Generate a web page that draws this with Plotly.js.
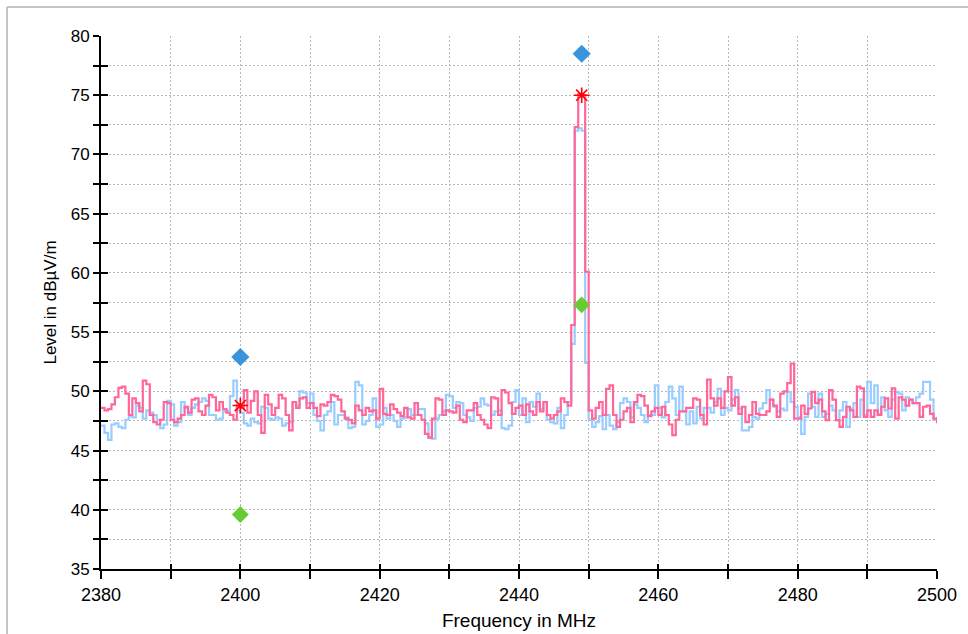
<!DOCTYPE html>
<html>
<head>
<meta charset="utf-8">
<script src="https://cdn.plot.ly/plotly-3.0.1.min.js"></script>
<style>html,body{margin:0;padding:0;background:#fff;}#chart{width:968px;height:634px;}</style>
</head>
<body>
<div id="chart"></div>
<script>
// Sweep: 2380 MHz to 2500 MHz, 0.5 MHz per sample
const sweepStart = 2380;
const sweepStep = 0.5;

// Level trace 1 (light blue), dBµV/m
const levelBlue = [
47.1,46.5,45.9,47.2,47.3,47.0,46.9,47.6,47.9,47.8,
48.8,48.6,47.7,48.4,48.2,48.0,47.6,46.9,47.2,49.2,
48.9,47.1,47.4,49.1,48.6,48.0,48.6,48.9,49.1,49.4,
49.2,48.0,48.0,47.6,47.7,48.3,48.4,49.6,50.9,48.4,
48.2,47.3,47.1,47.7,47.4,47.3,48.7,48.6,47.7,47.6,
47.8,47.7,47.1,47.3,47.4,49.1,48.8,50.0,49.9,49.0,
49.8,
48.0,47.5,46.7,48.0,48.3,49.1,47.2,48.0,48.0,
47.8,46.9,47.0,50.8,50.5,47.2,47.5,48.0,49.4,47.0,
47.2,48.6,47.7,48.0,47.5,47.0,47.7,47.8,48.5,48.0,
48.0,48.5,48.5,47.3,46.1,46.0,47.7,48.0,48.3,49.7,
49.6,48.6,49.1,49.0,48.0,47.8,47.5,48.6,48.7,49.4,
48.9,48.8,48.0,48.3,48.4,46.9,46.8,47.1,49.1,50.1,
48.0,
49.4,47.4,49.1,48.7,49.8,48.5,49.1,47.6,47.4,
47.3,48.6,46.9,48.0,49.1,54.0,72.0,72.2,72.0,52.4,
47.6,47.0,47.4,47.9,46.8,48.0,47.1,46.8,47.4,49.0,
49.4,49.1,47.8,48.9,48.6,48.0,47.4,48.0,48.0,50.5,
48.6,47.8,49.1,50.4,49.4,48.0,50.4,48.3,47.2,48.3,
47.3,48.7,47.7,48.6,48.6,48.2,49.1,50.2,48.0,48.6,
48.4,
49.3,50.1,48.55,46.7,46.7,47.0,47.85,47.7,48.55,
49.0,50.1,49.3,48.7,48.3,48.55,48.4,49.96,49.1,48.7,
47.85,46.4,47.85,49.8,48.7,47.85,49.8,47.85,48.1,48.8,
48.4,47.57,48.4,49.1,47.0,48.55,49.0,47.85,49.3,48.0,
50.8,49.0,50.5,48.1,49.5,48.4,47.85,49.3,49.96,49.8,
48.4,49.5,49.3,49.0,49.5,49.8,50.8,50.8,49.3,47.6,
47.85
];

// Level trace 2 (pink), dBµV/m
const levelPink = [
48.6,48.4,48.5,48.9,49.5,50.3,50.4,49.8,48.0,49.4,
49.0,48.3,50.9,50.6,48.0,47.4,47.2,47.6,49.1,49.0,
47.6,47.4,47.7,48.0,48.7,48.2,49.3,49.4,48.3,48.0,
48.8,49.7,49.5,48.4,49.1,48.5,48.2,48.0,47.6,48.8,
48.6,50.1,48.2,49.2,50.0,48.0,46.5,49.7,48.9,48.0,
48.6,49.7,49.4,48.0,46.7,49.1,48.6,49.4,49.5,48.6,
49.0,
48.6,47.9,48.9,48.8,49.1,49.7,49.6,49.3,48.3,
47.7,47.6,47.3,48.8,48.4,48.0,48.6,48.3,48.4,47.7,
50.2,48.1,48.0,48.9,48.5,48.2,47.9,48.6,47.8,47.7,
49.0,48.0,47.6,46.4,46.1,47.7,49.4,49.3,48.0,48.4,
48.3,48.2,48.8,47.6,47.4,48.4,48.4,49.0,48.0,47.6,
47.2,46.9,49.5,49.4,48.0,50.1,49.9,49.0,48.1,48.6,
48.8,
48.0,48.9,48.3,48.0,49.1,48.3,49.1,48.0,47.7,
48.0,48.3,49.4,49.1,48.8,55.6,72.3,75.1,75.0,60.1,
48.4,47.7,48.6,49.1,48.0,50.2,50.5,48.0,47.0,47.6,
48.3,48.6,47.4,49.1,49.7,49.6,48.8,47.9,48.3,48.6,
48.0,48.7,48.0,47.2,46.3,47.6,48.3,48.3,48.6,48.6,
49.4,49.3,48.0,47.2,51.0,49.4,48.8,49.4,48.6,50.0,
51.2,
48.8,49.5,48.1,48.7,47.4,48.0,49.1,48.1,48.0,
48.0,48.3,49.3,48.8,47.85,49.8,50.0,50.7,52.35,47.7,
47.7,48.8,48.1,48.55,49.96,49.0,49.3,48.3,47.57,50.1,
49.3,47.57,47.0,47.85,48.7,48.4,47.85,50.4,50.25,47.85,
48.4,47.85,48.4,48.0,48.7,49.4,48.55,50.25,47.7,49.5,
49.3,48.8,49.3,49.0,49.0,47.85,48.7,48.8,48.1,47.7,
47.3
];

// Marker points
const markerFreq = [2400, 2449];
const peakBlue = [52.9, 78.5];
const avgGreen = [39.6, 57.3];
const starRed = [48.8, 75.0];

// Axis ticks
const xTickVals = [2380,2390,2400,2410,2420,2430,2440,2450,2460,2470,2480,2490,2500];
const xTickText = ['2380','','2400','','2420','','2440','','2460','','2480','','2500'];
const yTickVals = [35,37.5,40,42.5,45,47.5,50,52.5,55,57.5,60,62.5,65,67.5,70,72.5,75,77.5,80];
const yTickText = ['35','','40','','45','','50','','55','','60','','65','','70','','75','','80'];

const freq = levelBlue.map((_, i) => sweepStart + sweepStep * i);

const font = {family: 'Liberation Sans, Arial, sans-serif', color: '#000'};
const gridDash = '2px,2px';

const traces = [
  {x: freq, y: levelBlue, type: 'scatter', mode: 'lines', line: {shape: 'hv', color: '#99ccff', width: 2.2}, hoverinfo: 'skip'},
  {x: freq, y: levelPink, type: 'scatter', mode: 'lines', line: {shape: 'hv', color: '#ff6699', width: 2.2}, hoverinfo: 'skip'},
  {x: markerFreq, y: peakBlue, type: 'scatter', mode: 'markers', marker: {symbol: 'diamond', size: 14, color: '#3a94dc'}},
  {x: markerFreq, y: avgGreen, type: 'scatter', mode: 'markers', marker: {symbol: 'diamond', size: 13, color: '#66cc33'}},
  {x: markerFreq, y: starRed, type: 'scatter', mode: 'markers', marker: {symbol: 'asterisk-open', size: 13, color: '#ff0000', line: {color: '#ff0000', width: 1.6}}},
  {x: [sweepStart], y: [35], xaxis: 'x2', yaxis: 'y2', type: 'scatter', mode: 'markers', marker: {opacity: 0}, hoverinfo: 'skip'}
];

const layout = {
  width: 968, height: 634,
  margin: {l: 101, r: 31, t: 36, b: 65},
  paper_bgcolor: '#fff', plot_bgcolor: '#fff',
  showlegend: false,
  font: Object.assign({size: 17}, font),
  xaxis: {
    range: [2380, 2500], tickvals: xTickVals, ticktext: xTickText,
    ticks: 'outside', ticklen: 8, tickwidth: 2, tickcolor: '#000',
    showline: true, linecolor: '#000', linewidth: 2,
    showgrid: true, gridcolor: '#b8b8b8', griddash: gridDash, gridwidth: 1,
    zeroline: false, tickfont: Object.assign({size: 18}, font),
    title: {text: 'Frequency in MHz', font: Object.assign({size: 19}, font), standoff: 10}
  },
  yaxis: {
    range: [35, 80], tickvals: yTickVals, ticktext: yTickText,
    ticks: 'outside', ticklen: 6, tickwidth: 2, tickcolor: '#000',
    showline: true, linecolor: '#000', linewidth: 2,
    showgrid: true, gridcolor: '#b8b8b8', griddash: gridDash, gridwidth: 1,
    zeroline: false, tickfont: Object.assign({size: 17}, font),
    title: {text: 'Level in dBµV/m', font: Object.assign({size: 17}, font), standoff: 10}
  },
  xaxis2: {
    overlaying: 'x', anchor: 'y2', side: 'bottom', range: [2380, 2500],
    tickvals: xTickVals, showticklabels: false,
    ticks: 'inside', ticklen: 5, tickwidth: 2, tickcolor: '#000',
    showline: false, showgrid: false, zeroline: false
  },
  yaxis2: {
    overlaying: 'y', anchor: 'x2', side: 'left', range: [35, 80],
    tickvals: yTickVals, showticklabels: false,
    ticks: 'inside', ticklen: 7, tickwidth: 2, tickcolor: '#000',
    showline: false, showgrid: false, zeroline: false
  },
  shapes: [
    {type: 'line', xref: 'paper', yref: 'paper', x0: -0.1124, x1: -0.1124, y0: -0.2, y1: 1.0544, line: {color: '#c4c4c4', width: 2}},
    {type: 'line', xref: 'paper', yref: 'paper', x0: -0.1124, x1: 1.1, y0: 1.0544, y1: 1.0544, line: {color: '#c4c4c4', width: 2}}
  ]
};

Plotly.newPlot('chart', traces, layout, {staticPlot: true, displayModeBar: false});
</script>
</body>
</html>
